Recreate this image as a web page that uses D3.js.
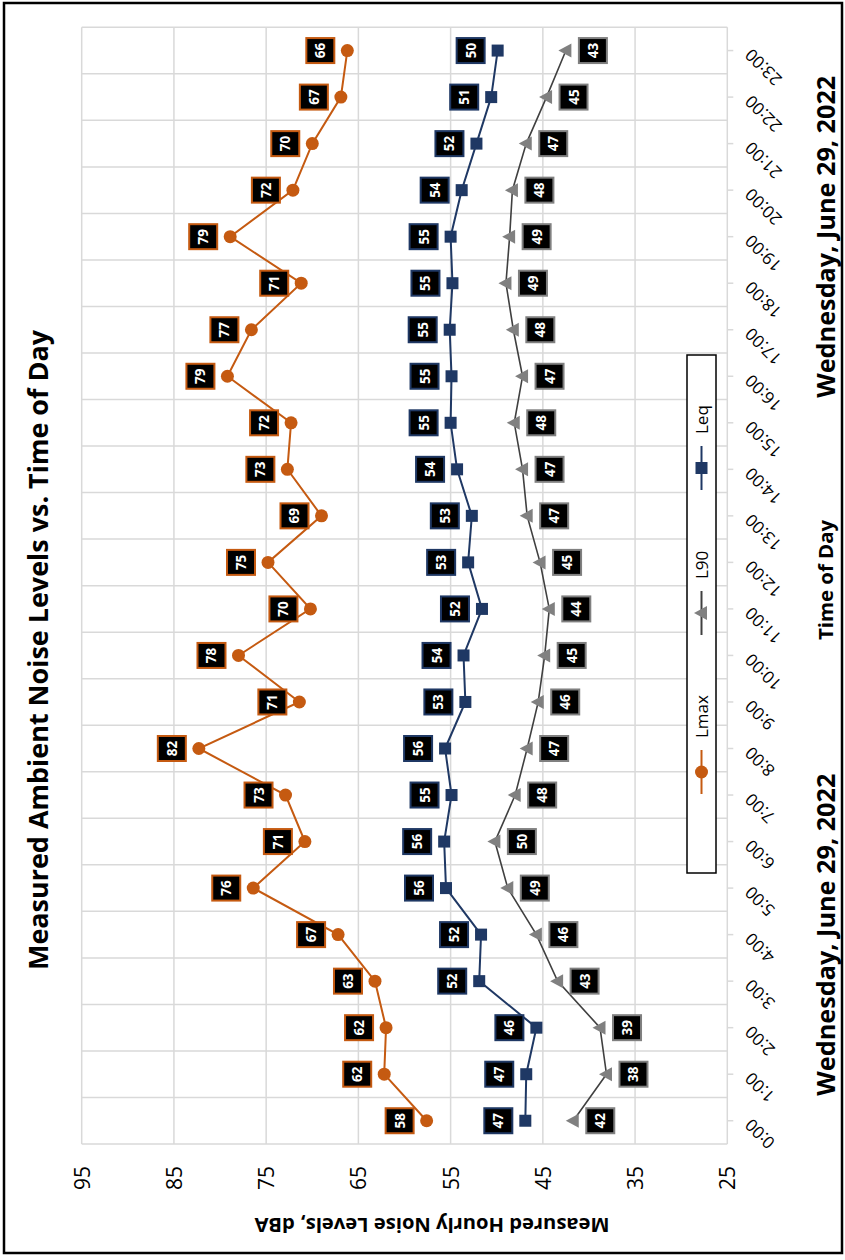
<!DOCTYPE html>
<html>
<head>
<meta charset="utf-8">
<title>Measured Ambient Noise Levels vs. Time of Day</title>
<script src="https://d3js.org/d3.v7.min.js"></script>
<style>
    body { margin: 0; background: #fff; }
    svg { display: block; font-family: 'Open Sans', sans-serif; }
</style>
</head>
<body>
<svg id="chart"></svg>
<script>
    // Hourly values
    const hours = ['0:00', '1:00', '2:00', '3:00', '4:00', '5:00', '6:00', '7:00', '8:00', '9:00', '10:00', '11:00',
        '12:00', '13:00', '14:00', '15:00', '16:00', '17:00', '18:00', '19:00', '20:00', '21:00', '22:00', '23:00'];
    const lmax = [57.6, 62.2, 62.0, 63.2, 67.2, 76.4, 70.8, 72.9, 82.3, 71.4, 78.0, 70.2,
        74.8, 69.0, 72.7, 72.3, 79.2, 76.6, 71.2, 78.9, 72.1, 70.0, 66.9, 66.2];
    const l90 = [41.7, 38.1, 38.8, 43.4, 45.7, 48.8, 50.2, 48.0, 46.7, 45.5, 44.8, 44.3,
        45.3, 46.7, 47.2, 48.1, 47.2, 48.2, 49.0, 48.6, 48.3, 46.8, 44.6, 42.5];
    const leq = [46.9, 46.8, 45.7, 51.9, 51.7, 55.5, 55.7, 54.9, 55.6, 53.4, 53.6, 51.6,
        53.1, 52.7, 54.3, 55.0, 54.9, 55.1, 54.8, 55.0, 53.8, 52.2, 50.6, 49.9];
    const yTicks = [95, 85, 75, 65, 55, 45, 35, 25];
    const dateLabels = ['Wednesday, June 29, 2022', 'Wednesday, June 29, 2022'];

    const COLORS = {
        LMAX: '#C55A11',
        LEQ: '#1F3864',
        L90_LINE: '#404040',
        L90_MARK: '#808080',
        GRID: '#D9D9D9'
    };

    // The whole chart is printed turned a quarter turn to the left,
    // so draw it upright on a 1260 x 845 sheet and rotate the group.
    const W = 1260, H = 845;
    const svg = d3.select('#chart').attr('width', H).attr('height', W);
    svg.append('rect').attr('width', H).attr('height', W).attr('fill', '#fff');
    const g = svg.append('g').attr('transform', `translate(0,${W}) rotate(-90)`);

    // Outer frame
    g.append('rect')
        .attr('x', 7).attr('y', 4)
        .attr('width', 1250).attr('height', 838)
        .attr('fill', 'none').attr('stroke', '#000').attr('stroke-width', 2.5);

    const x = d3.scaleBand().domain(hours).range([116, 1232.7]);
    const y = d3.scaleLinear().domain([25, 95]).range([727.3, 81.7]);
    const cx = h => x(h) + x.bandwidth() / 2;

    // Value gridlines
    g.append('g').selectAll('line').data(yTicks).join('line')
        .attr('x1', 116).attr('x2', 1232.7)
        .attr('y1', d => y(d)).attr('y2', d => y(d))
        .attr('stroke', COLORS.GRID).attr('stroke-width', 1.5);

    // Category gridlines on band edges
    const edges = hours.map(h => x(h)).concat([x.range()[1]]);
    g.append('g').selectAll('line').data(edges).join('line')
        .attr('x1', d => d).attr('x2', d => d)
        .attr('y1', y(95)).attr('y2', y(25))
        .attr('stroke', COLORS.GRID).attr('stroke-width', 1.5);

    // Small ticks at band centres
    g.append('g').selectAll('line').data(hours).join('line')
        .attr('x1', cx).attr('x2', cx)
        .attr('y1', y(25)).attr('y2', y(25) + 6)
        .attr('stroke', COLORS.GRID).attr('stroke-width', 1.5);

    // Value tick labels
    g.append('g').selectAll('text').data(yTicks).join('text')
        .attr('x', 94).attr('y', d => y(d))
        .attr('text-anchor', 'end').attr('dominant-baseline', 'central')
        .attr('font-size', 21).attr('fill', '#000')
        .text(d => d);

    // Hour labels, slanted
    g.append('g').selectAll('text').data(hours).join('text')
        .attr('transform', d => `translate(${cx(d) + 3},${y(25) + 25}) rotate(-45)`)
        .attr('text-anchor', 'end')
        .attr('font-size', 17).attr('fill', '#000')
        .text(d => d);

    const series = [
        {name: 'Lmax', values: lmax, line: COLORS.LMAX, mark: COLORS.LMAX, box: COLORS.LMAX, shape: 'circle', dy: -27},
        {name: 'L90', values: l90, line: COLORS.L90_LINE, mark: COLORS.L90_MARK, box: COLORS.L90_MARK, shape: 'triangle', dy: 27},
        {name: 'Leq', values: leq, line: COLORS.LEQ, mark: COLORS.LEQ, box: COLORS.LEQ, shape: 'square', dy: -27}
    ];

    function drawMarker(sel, s) {
        if (s.shape === 'circle') {
            sel.append('circle').attr('r', 6.5).attr('fill', s.mark);
        } else if (s.shape === 'square') {
            sel.append('rect').attr('x', -6).attr('y', -6).attr('width', 12).attr('height', 12).attr('fill', s.mark);
        } else {
            sel.append('path').attr('d', 'M0,-7.5L7,5.5L-7,5.5Z').attr('fill', s.mark);
        }
    }

    const line = d3.line().x((d, i) => cx(hours[i])).y(d => y(d));

    series.forEach(s => {
        g.append('path')
            .datum(s.values)
            .attr('d', line)
            .attr('fill', 'none')
            .attr('stroke', s.line)
            .attr('stroke-width', s.shape === 'triangle' ? 1.6 : 2);
    });

    series.forEach(s => {
        const pts = g.append('g').selectAll('g').data(s.values).join('g')
            .attr('transform', (d, i) => `translate(${cx(hours[i])},${y(d)})`);
        drawMarker(pts, s);
    });

    // Data callouts: black box, coloured edge, white figures
    series.forEach(s => {
        const lab = g.append('g').selectAll('g').data(s.values).join('g')
            .attr('transform', (d, i) => `translate(${cx(hours[i])},${y(d) + s.dy})`);
        lab.append('rect')
            .attr('x', -12.5).attr('y', -14)
            .attr('width', 25).attr('height', 28)
            .attr('fill', '#000').attr('stroke', s.box).attr('stroke-width', 2);
        lab.append('text')
            .attr('text-anchor', 'middle').attr('dominant-baseline', 'central')
            .attr('font-size', 13.5).attr('font-weight', 700).attr('fill', '#fff')
            .text(d => Math.round(d));
    });

    // Legend
    const legend = g.append('g');
    legend.append('rect')
        .attr('x', 387).attr('y', 687).attr('width', 518).attr('height', 29)
        .attr('fill', '#fff').attr('stroke', '#000').attr('stroke-width', 1.5);
    const legendX = [488, 647, 792];
    series.forEach((s, i) => {
        const item = legend.append('g').attr('transform', `translate(${legendX[i]},701.5)`);
        item.append('line').attr('x1', -22).attr('x2', 22)
            .attr('stroke', s.line).attr('stroke-width', 2);
        drawMarker(item, s);
        item.append('text')
            .attr('x', 34).attr('dominant-baseline', 'central')
            .attr('font-size', 17).attr('fill', '#000')
            .text(s.name);
    });

    // Titles
    g.append('text')
        .attr('x', 610).attr('y', 48)
        .attr('text-anchor', 'middle')
        .attr('font-size', 26).attr('font-weight', 700)
        .attr('textLength', 640).attr('lengthAdjust', 'spacingAndGlyphs')
        .text('Measured Ambient Noise Levels vs. Time of Day');

    g.append('text')
        .attr('transform', 'translate(42,432) rotate(-90)')
        .attr('text-anchor', 'middle')
        .attr('font-size', 20).attr('font-weight', 700)
        .attr('textLength', 355).attr('lengthAdjust', 'spacingAndGlyphs')
        .text('Measured Hourly Noise Levels, dBA');

    g.append('text')
        .attr('x', 680).attr('y', 833)
        .attr('text-anchor', 'middle')
        .attr('font-size', 20).attr('font-weight', 700)
        .attr('textLength', 120).attr('lengthAdjust', 'spacingAndGlyphs')
        .text('Time of Day');

    const dateX = [cx('4:00'), cx('19:00')];
    g.append('g').selectAll('text').data(dateLabels).join('text')
        .attr('x', (d, i) => dateX[i]).attr('y', 835)
        .attr('text-anchor', 'middle')
        .attr('font-size', 25).attr('font-weight', 700)
        .attr('textLength', 322).attr('lengthAdjust', 'spacingAndGlyphs')
        .text(d => d);
</script>
</body>
</html>
